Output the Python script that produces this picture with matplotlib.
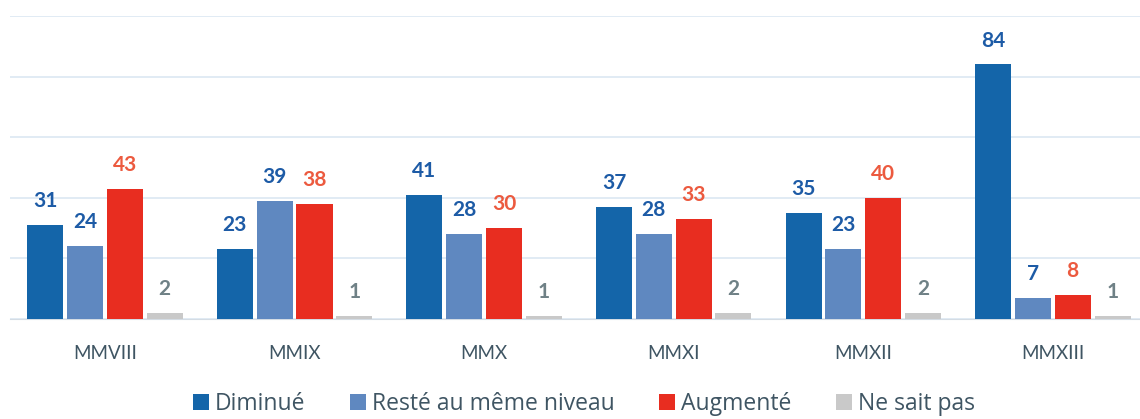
import numpy as np
import matplotlib.pyplot as plt

# Data
years = ['MMVIII', 'MMIX', 'MMX', 'MMXI', 'MMXII', 'MMXIII']
series = ['Diminué', 'Resté au même niveau', 'Augmenté', 'Ne sait pas']
diminue = [31, 23, 41, 37, 35, 84]
reste = [24, 39, 28, 28, 23, 7]
augmente = [43, 38, 30, 33, 40, 8]
ne_sait_pas = [2, 1, 1, 2, 2, 1]

bar_colors = ['#1465a9', '#5f88c0', '#e82d20', '#c9c9c9']
label_colors = ['#1d5ba6', '#1d5ba6', '#ec5a3f', '#6f8186']

plt.rcParams['font.family'] = ['Lato', 'DejaVu Sans']

fig = plt.figure(figsize=(11.4, 4.19), dpi=100)
ax = fig.add_axes([0.009, 0.239, 0.991, 0.723])

x = np.arange(len(years))
slot = 0.21
width = 0.19
values = [diminue, reste, augmente, ne_sait_pas]

for i, (name, vals) in enumerate(zip(series, values)):
    pos = x + (i - 1.5) * slot
    bars = ax.bar(pos, vals, width, color=bar_colors[i], label=name, zorder=3)
    for b, v in zip(bars, vals):
        ax.annotate(str(v), (b.get_x() + b.get_width() / 2, v),
                    xytext=(0, 10), textcoords='offset points',
                    ha='center', va='bottom', fontsize=15, fontweight='bold',
                    color=label_colors[i])

ax.set_ylim(0, 100)
ax.set_xlim(-0.5, 5.46)
ax.set_yticks(np.arange(0, 101, 20))
ax.yaxis.grid(True, color='#dce8f2', linewidth=1.2, zorder=0)
ax.set_yticklabels([])
ax.tick_params(axis='y', length=0)
ax.tick_params(axis='x', length=0, labelsize=13.5, labelcolor='#3f5563', pad=19)
ax.set_xticks(x)
ax.set_xticklabels(years)
for s in ['top', 'right', 'left']:
    ax.spines[s].set_visible(False)
ax.spines['bottom'].set_color('#d4dce4')

leg = fig.legend(loc='center', bbox_to_anchor=(0.512, 0.036), ncol=4,
                 frameon=False, handlelength=0.7, handleheight=0.7,
                 handletextpad=0.25, columnspacing=1.95, labelcolor='#3f5563',
                 prop={'family': 'Open Sans', 'size': 16.5})

fig.savefig('out.png', dpi=100)
